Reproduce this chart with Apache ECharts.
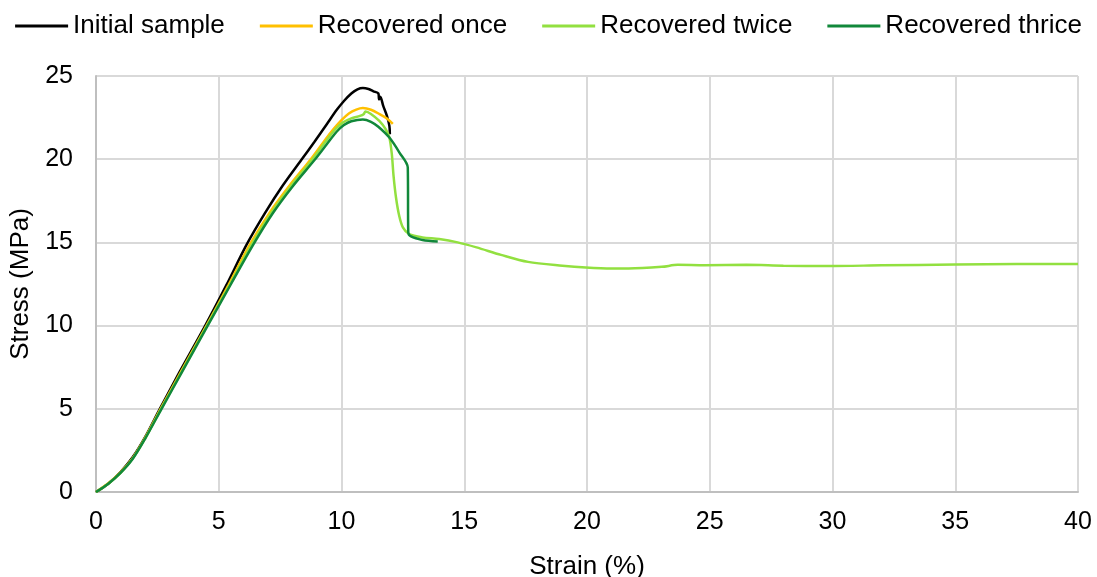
<!DOCTYPE html>
<html>
<head>
<meta charset="utf-8">
<script src="https://cdn.jsdelivr.net/npm/echarts@6/dist/echarts.min.js"></script>
<style>html,body{margin:0;padding:0;background:#fff;}#c{width:1097px;height:577px;}</style>
</head>
<body>
<div id="c"></div>
<script>
const seriesNames = ['Initial sample', 'Recovered once', 'Recovered twice', 'Recovered thrice'];
const seriesColors = ['#000000', '#FFC000', '#92E040', '#11883A'];
const xTicks = [0, 5, 10, 15, 20, 25, 30, 35, 40];
const yTicks = [0, 5, 10, 15, 20, 25];

const initialSample = [[0,0],[0.5,0.5],[1.0,1.2],[1.5,2.1],[2.0,3.3],[2.6,5.0],[3.4,7.2],[4.45,10.0],[5.3,12.4],[6.13,14.85],[6.9,16.8],[7.6,18.4],[8.36,19.95],[8.9,21.05],[9.4,22.1],[9.8,22.95],[10.1,23.5],[10.4,23.95],[10.65,24.2],[10.87,24.28],[11.1,24.22],[11.3,24.08],[11.5,23.95],[11.53,23.6],[11.58,23.75],[11.7,23.2],[11.85,22.6],[11.95,22.0],[11.97,21.5]];
const recoveredOnce = [[0,0],[0.5,0.52],[1.0,1.18],[1.5,2.05],[2.0,3.25],[2.63,5.0],[3.45,7.2],[4.5,10.0],[5.4,12.45],[6.3,14.95],[7.1,16.85],[7.9,18.45],[8.75,20.0],[9.3,21.1],[9.7,21.85],[10.0,22.35],[10.3,22.75],[10.6,22.98],[10.87,23.07],[11.2,22.97],[11.54,22.72],[11.85,22.45],[12.09,22.12]];
const recoveredTwice = [[0,0],[0.5,0.5],[1.0,1.15],[1.5,2.02],[2.0,3.22],[2.65,5.0],[3.48,7.2],[4.52,10.0],[5.45,12.45],[6.35,14.9],[7.15,16.8],[7.95,18.4],[8.82,20.0],[9.35,21.05],[9.75,21.8],[10.05,22.2],[10.4,22.45],[10.75,22.6],[10.9,22.7],[10.98,22.87],[11.2,22.72],[11.54,22.3],[11.8,21.8],[11.95,21.3],[12.05,20.3],[12.12,19.0],[12.22,17.7],[12.35,16.6],[12.5,15.9],[12.76,15.5],[13.3,15.3],[13.98,15.2],[14.73,15.0],[15.5,14.7],[16.5,14.25],[17.6,13.83],[19.0,13.6],[19.95,13.49],[21.0,13.43],[21.7,13.43],[23.05,13.53],[23.7,13.65],[24.8,13.63],[26.5,13.65],[28.0,13.6],[29.8,13.58],[32.0,13.62],[35.0,13.67],[37.5,13.7],[40.0,13.7]];
const recoveredThrice = [[0,0],[0.5,0.5],[1.0,1.15],[1.5,2.0],[2.0,3.2],[2.67,5.0],[3.5,7.2],[4.55,10.0],[5.5,12.5],[6.4,14.85],[7.2,16.75],[8.0,18.35],[8.9,19.95],[9.4,20.9],[9.8,21.65],[10.1,22.05],[10.4,22.28],[10.87,22.39],[11.2,22.25],[11.5,21.95],[11.95,21.3],[12.36,20.4],[12.7,19.5],[12.72,15.6],[12.83,15.36],[13.3,15.15],[13.92,15.06]];

const allData = [initialSample, recoveredOnce, recoveredTwice, recoveredThrice];

const chart = echarts.init(document.getElementById('c'), null, {renderer: 'canvas'});
const font = 'Liberation Sans, Arial, sans-serif';
chart.setOption({
  animation: false,
  backgroundColor: '#ffffff',
  textStyle: {fontFamily: font},
  legend: {
    top: 8,
    left: 'center',
    itemWidth: 53,
    itemHeight: 3,
    itemGap: 35,
    icon: 'rect',
    textStyle: {fontSize: 26, color: '#000', fontFamily: font},
    data: seriesNames.map((n, i) => ({name: n, itemStyle: {color: seriesColors[i]}}))
  },
  grid: {left: 96, right: 19, top: 76, bottom: 85, containLabel: false, outerBoundsMode: 'none'},
  xAxis: {
    type: 'value', min: 0, max: 40, interval: 5,
    name: 'Strain (%)', nameLocation: 'middle', nameGap: 62,
    nameTextStyle: {fontSize: 26, color: '#000', fontFamily: font},
    axisLine: {show: true, lineStyle: {color: '#bfbfbf', width: 2}},
    axisTick: {show: false},
    axisLabel: {fontSize: 25, color: '#000', margin: 18, fontFamily: font,
      formatter: v => xTicks.includes(v) ? String(v) : ''},
    splitLine: {show: true, lineStyle: {color: '#d9d9d9', width: 2}}
  },
  yAxis: {
    type: 'value', min: 0, max: 25, interval: 5,
    name: 'Stress (MPa)', nameLocation: 'middle', nameGap: 60,
    nameTextStyle: {fontSize: 26, color: '#000', fontFamily: font},
    axisLine: {show: true, lineStyle: {color: '#bfbfbf', width: 2}},
    axisTick: {show: false},
    axisLabel: {fontSize: 25, color: '#000', margin: 23, fontFamily: font,
      formatter: v => yTicks.includes(v) ? String(v) : ''},
    splitLine: {show: true, lineStyle: {color: '#d9d9d9', width: 2}}
  },
  series: seriesNames.map((n, i) => ({
    name: n, type: 'line', data: allData[i], showSymbol: false, symbol: 'none',
    smooth: 0.3, z: 2 + i,
    lineStyle: {color: seriesColors[i], width: 2.5},
    itemStyle: {color: seriesColors[i]}
  }))
});
</script>
</body>
</html>
